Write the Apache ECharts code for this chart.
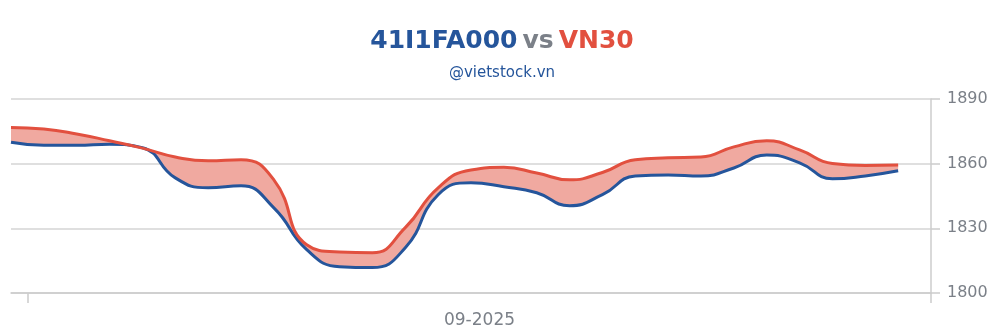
<!DOCTYPE html>
<html>
<head>
<meta charset="utf-8">
<script src="https://cdn.jsdelivr.net/npm/echarts@6/dist/echarts.min.js"></script>
<style>
html,body{margin:0;padding:0;background:#fff;}
#chart{width:1004px;height:336px;}
</style>
</head>
<body>
<div id="chart"></div>
<script>
// Observation index along the period (evenly spaced); the last slot is empty space before the axis end
const points = ['1','2','3','4','5','6','7','8','9','10','11','12','13','14','15','16','17','18','19','20','21','22','23','24','25','26','27','28',''];
// 41I1FA000 (blue)
const fundValues = [1869.9,1868.5,1868.5,1869.0,1867.4,1853.4,1848.8,1849.7,1839.5,1820.1,1812.2,1811.8,1821.0,1845.6,
                    1851.1,1849.3,1846.5,1840.5,1845.6,1854.3,1854.8,1854.3,1858.0,1864.0,1860.4,1853.0,1854.3,1856.7];
// VN30 (red)
const vn30Values = [1876.8,1876.1,1873.8,1870.6,1867.2,1863.1,1861.3,1861.8,1852.5,1822.4,1819.0,1818.7,1830.3,1848.8,
                    1857.1,1858.3,1855.7,1852.5,1855.9,1861.8,1862.7,1863.1,1867.8,1870.6,1866.4,1860.1,1859.2,1859.4];
const monthLabels = ['09-2025'];
const yTicks = [1800, 1830, 1860, 1890];

const SM = 0.5;
const base = fundValues.map((v, i) => Math.min(v, vn30Values[i]));
const diff = fundValues.map((v, i) => Math.abs(vn30Values[i] - v));

const chart = echarts.init(document.getElementById('chart'));
chart.setOption({
  animation: false,
  backgroundColor: '#fff',
  title: {
    left: 'center',
    top: 24,
    text: '{a|41I1FA000} {b|vs} {c|VN30}',
    subtext: '@vietstock.vn',
    itemGap: 12,
    textStyle: {
      rich: {
        a: {fontFamily: 'DejaVu Sans', fontWeight: 'bold', fontSize: 25, color: '#25559b'},
        b: {fontFamily: 'DejaVu Sans', fontWeight: 'bold', fontSize: 25, color: '#7b8088'},
        c: {fontFamily: 'DejaVu Sans', fontWeight: 'bold', fontSize: 25, color: '#e2503f'}
      }
    },
    subtextStyle: {fontFamily: 'DejaVu Sans', fontSize: 15, color: '#25559b'}
  },
  grid: [
    {left: 11, right: 73, top: 99, bottom: 43, containLabel: false},
    {left: 28, right: 73, top: 99, bottom: 43, containLabel: false}
  ],
  xAxis: [
    {
      type: 'category', gridIndex: 0, data: points, boundaryGap: false,
      axisLine: {show: true, lineStyle: {color: '#cccccc', width: 1.5}},
      axisTick: {show: false}, axisLabel: {show: false}, splitLine: {show: false}
    },
    {
      type: 'category', gridIndex: 1, data: monthLabels, boundaryGap: true,
      axisLine: {show: false},
      axisTick: {show: true, length: 10, lineStyle: {color: '#cccccc', width: 1.5}},
      axisLabel: {show: true, color: '#7b8088', fontFamily: 'DejaVu Sans', fontSize: 17, margin: 19},
      splitLine: {show: false}
    }
  ],
  yAxis: [
    {
      type: 'value', gridIndex: 0, position: 'right',
      min: yTicks[0], max: yTicks[yTicks.length - 1], interval: 30,
      axisLine: {show: true, lineStyle: {color: '#cccccc', width: 1.5}},
      axisTick: {show: true, length: 9, inside: false, lineStyle: {color: '#cccccc', width: 1.5}},
      axisLabel: {color: '#7b8088', fontFamily: 'DejaVu Sans', fontSize: 16, margin: 16,
                  formatter: v => String(v)},
      splitLine: {show: true, lineStyle: {color: '#d4d4d4', width: 1.5}}
    },
    {
      type: 'value', gridIndex: 1, min: 0, max: 1, show: false
    }
  ],
  series: [
    {
      type: 'line', xAxisIndex: 0, yAxisIndex: 0, stack: 'band', data: base,
      smooth: SM, symbol: 'none', lineStyle: {opacity: 0}, silent: true
    },
    {
      type: 'line', xAxisIndex: 0, yAxisIndex: 0, stack: 'band', data: diff,
      smooth: SM, symbol: 'none', lineStyle: {opacity: 0},
      areaStyle: {color: '#f0a9a0', opacity: 1}, silent: true
    },
    {
      name: '41I1FA000', type: 'line', xAxisIndex: 0, yAxisIndex: 0, data: fundValues,
      smooth: SM, symbol: 'none', lineStyle: {color: '#25559b', width: 3}
    },
    {
      name: 'VN30', type: 'line', xAxisIndex: 0, yAxisIndex: 0, data: vn30Values,
      smooth: SM, symbol: 'none', lineStyle: {color: '#e2503f', width: 3}
    }
  ]
});
</script>
</body>
</html>
